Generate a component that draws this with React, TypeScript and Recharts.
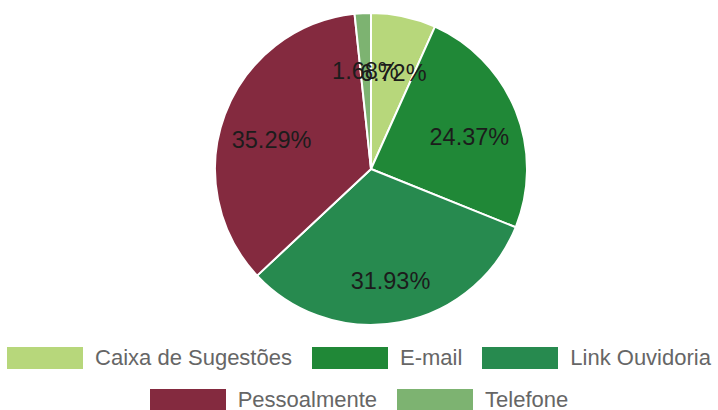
import { PieChart, Pie, Cell, Legend } from 'recharts';

const categories = ['Caixa de Sugestões', 'E-mail', 'Link Ouvidoria', 'Pessoalmente', 'Telefone'];
const counts = [8, 29, 38, 42, 2];
const colors = ['#b7d77b', '#208837', '#278a4f', '#842a3f', '#7db371'];

const data = categories.map((name, i) => ({ name, value: counts[i] }));

const RADIAN = Math.PI / 180;

const renderLabel = (props: any) => {
    const { cx, cy, midAngle, outerRadius, percent } = props;
    const r = outerRadius * 0.68;
    const x = cx + r * Math.cos(-midAngle * RADIAN);
    const y = cy + r * Math.sin(-midAngle * RADIAN);
    return (
        <text
            x={x}
            y={y + 8}
            fill="#1c1c1c"
            textAnchor="middle"
            dominantBaseline="central"
            fontSize={23.5}
            fontFamily="'Liberation Sans', Arial, sans-serif"
        >
            {(percent * 100).toFixed(2)}%
        </text>
    );
};

const renderLegend = () => (
    <div
        style={{
            display: 'flex',
            flexWrap: 'wrap',
            justifyContent: 'center',
            rowGap: 20,
            columnGap: 20,
            width: 718,
            fontFamily: "'Liberation Sans', Arial, sans-serif",
            fontSize: 22,
            lineHeight: '22px',
            color: '#666',
        }}
    >
        {categories.map((name, i) => (
            <div key={name} style={{ display: 'flex', alignItems: 'center', height: 22 }}>
                <span
                    style={{
                        display: 'inline-block',
                        width: 76,
                        height: 22,
                        background: colors[i],
                        marginRight: 12,
                    }}
                />
                <span style={{ whiteSpace: 'nowrap' }}>{name}</span>
            </div>
        ))}
    </div>
);

export default function App() {
    return (
        <div style={{ position: 'absolute', left: 0, top: 0, background: '#fff' }}>
            <PieChart width={718} height={410} margin={{ top: 0, right: 0, bottom: 0, left: 0 }}>
                <Pie
                    data={data}
                    dataKey="value"
                    nameKey="name"
                    cx={371}
                    cy={169}
                    outerRadius={156}
                    startAngle={90}
                    endAngle={-270}
                    stroke="#fff"
                    strokeWidth={2}
                    label={renderLabel}
                    labelLine={false}
                    isAnimationActive={false}
                >
                    {data.map((d, i) => (
                        <Cell key={d.name} fill={colors[i]} />
                    ))}
                </Pie>
                <Legend
                    content={renderLegend}
                    wrapperStyle={{ top: 347, left: 0, width: 718 }}
                />
            </PieChart>
        </div>
    );
}
